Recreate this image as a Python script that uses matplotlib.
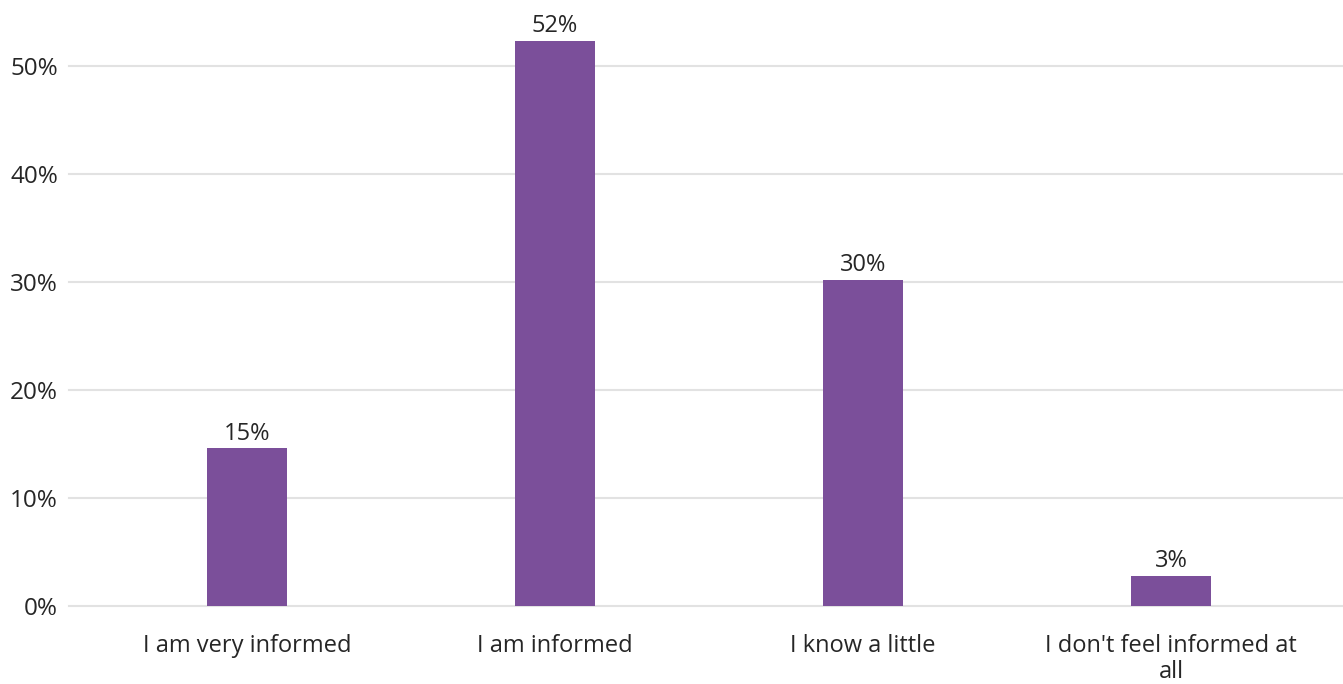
import matplotlib.pyplot as plt

categories = ["I am very informed", "I am informed", "I know a little",
              "I don't feel informed at\nall"]
values = [14.6, 52.3, 30.2, 2.8]
value_labels = ["15%", "52%", "30%", "3%"]
yticks = [0, 10, 20, 30, 40, 50]

plt.rcParams['font.family'] = ['Open Sans', 'DejaVu Sans']

fig = plt.figure(figsize=(13.43, 6.84), dpi=100)
# axes placed in pixels: x 69..1343, y 0..606 (from top)
ax = fig.add_axes([69 / 1343, (684 - 606) / 684, (1343 - 69) / 1343, 606 / 684])

x = list(range(len(categories)))
bars = ax.bar(x, values, width=0.26, color='#7B4F9A', zorder=3)

for b, lab in zip(bars, value_labels):
    ax.annotate(lab, (b.get_x() + b.get_width() / 2, b.get_height()),
                xytext=(0, 2), textcoords='offset points',
                ha='center', va='bottom', fontsize=17, color='#262626')

ax.set_xlim(-0.578, 3.558)
ax.set_ylim(0, 56.1)
ax.set_yticks(yticks)
ax.set_yticklabels([f"{t}%" for t in yticks])
ax.set_xticks(x)
ax.set_xticklabels(categories, linespacing=1.15)

for s in ax.spines.values():
    s.set_visible(False)
ax.grid(axis='y', color='#E2E2E2', linewidth=1.5, zorder=0)
for gl in ax.get_ygridlines():
    gl.set_clip_on(False)
ax.tick_params(axis='y', length=0, pad=8, labelsize=17.5, labelcolor='#262626')
ax.tick_params(axis='x', length=0, pad=20, labelsize=17, labelcolor='#262626')

fig.savefig('out.png', dpi=100)
